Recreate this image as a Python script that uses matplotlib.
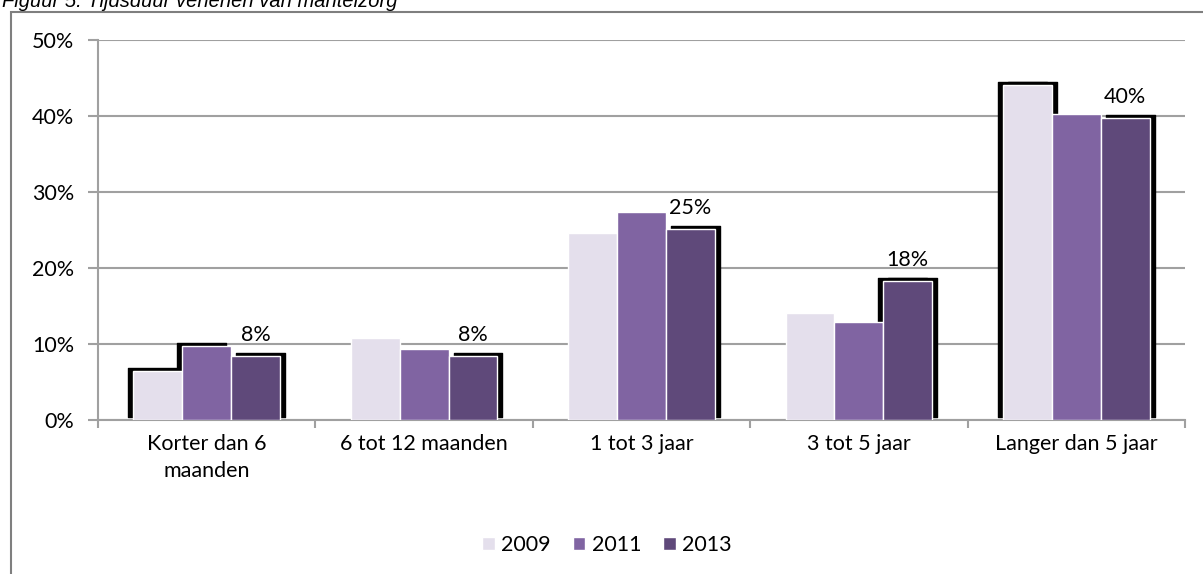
import matplotlib
matplotlib.use('Agg')
import matplotlib.pyplot as plt
from matplotlib.transforms import ScaledTranslation
from matplotlib.patches import Rectangle, Patch
import numpy as np

# ---- data ----
categories = ['Korter dan 6\nmaanden', '6 tot 12 maanden', '1 tot 3 jaar',
              '3 tot 5 jaar', 'Langer dan 5 jaar']
years = ['2009', '2011', '2013']
v2009 = [6.4, 10.8, 24.6, 14.1, 44.1]
v2011 = [9.7, 9.3, 27.4, 12.9, 40.3]
v2013 = [8.4, 8.4, 25.1, 18.3, 39.7]
yticks = [0, 10, 20, 30, 40, 50]
title = 'Figuur 5: Tijdsduur verlenen van mantelzorg'

# ---- style ----
colors = ['#E4DFEC', '#8064A2', '#5F497A']
# black "shadow" artefacts: (series, category) -> sides
shadows = {(0, 0): 'L', (1, 0): 'L', (2, 0): 'R', (2, 1): 'R', (2, 2): 'R',
           (2, 3): 'LR', (0, 4): 'LR', (2, 4): 'R'}

plt.rcParams['font.family'] = ['Lato', 'DejaVu Sans']
FS = 15.5
W, H = 1203, 574
fig = plt.figure(figsize=(W / 100, H / 100), dpi=100)
ax = fig.add_axes([98 / W, 1 - 420 / H, (1185 - 98) / W, 380 / H])

series = [v2009, v2011, v2013]
x = np.arange(len(categories))
bw = 0.225
offsets = [-bw, 0, bw]
grey = '#A0A0A0'

for i, vals in enumerate(series):
    # shadows first
    for j, v in enumerate(vals):
        sides = shadows.get((i, j), '')
        for s in sides:
            dx = -5 / 100 if s == 'L' else 5 / 100
            b = ax.bar(x[j] + offsets[i], v, bw, color='black', edgecolor='black',
                       linewidth=1.0, zorder=2)[0]
            b.set_transform(ax.transData + ScaledTranslation(dx, 3 / 100, fig.dpi_scale_trans))
            b.set_joinstyle('round')
    ax.bar(x + offsets[i], vals, bw, color=colors[i], edgecolor='white',
           linewidth=1.0, zorder=3, label=years[i])

# data labels on 2013 series
for j, v in enumerate(v2013):
    ax.annotate(f'{round(v)}%', (x[j] + offsets[2], v), xytext=(0, 8),
                textcoords='offset points', ha='center', va='bottom',
                fontsize=FS, color='black', zorder=5)

ax.set_xlim(-0.5, len(categories) - 0.5)
ax.set_ylim(0, 50)
ax.set_yticks(yticks)
ax.set_yticklabels([f'{t}%' for t in yticks], fontsize=FS)
ax.yaxis.grid(True, color=grey, linewidth=1.5, zorder=0)
ax.set_axisbelow(True)

ax.set_xticks(np.arange(-0.5, len(categories), 1.0))
ax.set_xticklabels([])
ax.set_xticks(x, minor=True)
ax.set_xticklabels(categories, minor=True, fontsize=FS, linespacing=1.45)
ax.tick_params(axis='x', which='minor', length=0, pad=10)
ax.tick_params(axis='x', which='major', length=6, width=1.5, color=grey, direction='out')
ax.tick_params(axis='y', length=7, width=1.5, color=grey, direction='out', pad=10)

for s in ['top', 'right']:
    ax.spines[s].set_visible(False)
for s in ['left', 'bottom']:
    ax.spines[s].set_color(grey)
    ax.spines[s].set_linewidth(1.5)

# legend
handles = [Patch(facecolor=colors[i], edgecolor='white') for i in range(3)]
fig.legend(handles, years, loc='center', bbox_to_anchor=(607 / W, 1 - 545 / H),
           ncol=3, frameon=False, fontsize=FS, handlelength=0.6, handleheight=0.6,
           handletextpad=0.3, columnspacing=1.0)

# outer frame
fig.patches.append(Rectangle((11 / W, -0.2), 1.2, 1.2 - 12 / H,
                             transform=fig.transFigure, fill=False,
                             edgecolor='#7F7F7F', linewidth=1.5))
# title (partly cut off at top, as in the reference)
fig.text(2 / W, 1 - 7 / H, title, fontsize=14.5, style='italic',
         family=['Liberation Sans', 'DejaVu Sans'], ha='left', va='baseline')

fig.savefig('out.png', dpi=100)
